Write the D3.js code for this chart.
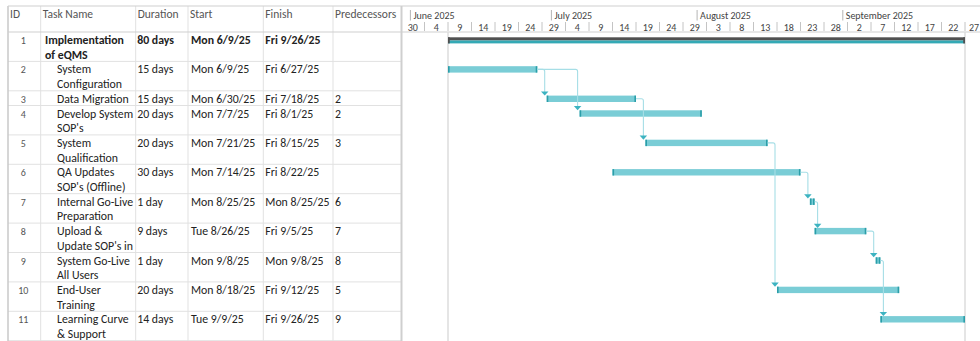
<!DOCTYPE html>
<html>
<head>
<meta charset="utf-8">
<script src="https://cdn.jsdelivr.net/npm/d3@7"></script>
<style>
  html, body { margin: 0; padding: 0; background: #fff; }
  svg { display: block; font-family: Carlito, Calibri, Lato, sans-serif; }
</style>
</head>
<body>
<svg id="chart" width="980" height="341"></svg>
<script>
// ---- task table ----
const ids = [1, 2, 3, 4, 5, 6, 7, 8, 9, 10, 11];
const taskNames = [
  "Implementation\nof eQMS",
  "System\nConfiguration",
  "Data Migration",
  "Develop System\nSOP's",
  "System\nQualification",
  "QA Updates\nSOP's (Offline)",
  "Internal Go-Live\nPreparation",
  "Upload &\nUpdate SOP's in",
  "System Go-Live\nAll Users",
  "End-User\nTraining",
  "Learning Curve\n& Support"
];
const durations = ["80 days", "15 days", "15 days", "20 days", "20 days", "30 days", "1 day", "9 days", "1 day", "20 days", "14 days"];
const startDates = ["2025-06-09", "2025-06-09", "2025-06-30", "2025-07-07", "2025-07-21", "2025-07-14", "2025-08-25", "2025-08-26", "2025-09-08", "2025-08-18", "2025-09-09"];
const finishDates = ["2025-09-26", "2025-06-27", "2025-07-18", "2025-08-01", "2025-08-15", "2025-08-22", "2025-08-25", "2025-09-05", "2025-09-08", "2025-09-12", "2025-09-26"];
const startLabels = ["Mon 6/9/25", "Mon 6/9/25", "Mon 6/30/25", "Mon 7/7/25", "Mon 7/21/25", "Mon 7/14/25", "Mon 8/25/25", "Tue 8/26/25", "Mon 9/8/25", "Mon 8/18/25", "Tue 9/9/25"];
const finishLabels = ["Fri 9/26/25", "Fri 6/27/25", "Fri 7/18/25", "Fri 8/1/25", "Fri 8/15/25", "Fri 8/22/25", "Mon 8/25/25", "Fri 9/5/25", "Mon 9/8/25", "Fri 9/12/25", "Fri 9/26/25"];
const predecessors = ["", "", "2", "2", "3", "", "6", "7", "8", "5", "9"];
const summaryRows = [1];
const columnHeaders = ["ID", "Task Name", "Duration", "Start", "Finish", "Predecessors"];

// ---- timescale ----
const timescaleStart = "2025-05-30";
const timescaleEnd = "2025-10-01";
const dayTickStep = 5;

const parse = d3.timeParse("%Y-%m-%d");
const svg = d3.select("#chart");
const W = 980;

// table geometry
const colEdges = [8, 40.7, 135.7, 188, 263.3, 333, 401.5];
const headerTop = 6, headerBottom = 32;
const lineH = 14.7;
const gridColor = "#e1e1e1";

const tasks = ids.map((id, i) => ({
  id,
  lines: taskNames[i].split("\n"),
  duration: durations[i],
  start: parse(startDates[i]),
  finish: d3.timeDay.offset(parse(finishDates[i]), 1),
  startLabel: startLabels[i],
  finishLabel: finishLabels[i],
  pred: predecessors[i],
  summary: summaryRows.includes(id)
}));

// row positions
let yCursor = headerBottom;
tasks.forEach(t => {
  t.top = yCursor;
  t.h = t.lines.length * lineH;
  yCursor += t.h;
});

const x = d3.scaleTime()
  .domain([parse(timescaleStart), parse(timescaleEnd)])
  .range([401, 401 + 124 * 4.7]);

// ---- grid: table ----
const grid = svg.append("g");
tasks.forEach(t => {
  grid.append("line")
    .attr("x1", colEdges[0]).attr("x2", colEdges[6])
    .attr("y1", t.top + t.h).attr("y2", t.top + t.h)
    .attr("stroke", gridColor).attr("stroke-width", 1);
});
colEdges.slice(1, 6).forEach(cx => {
  grid.append("line")
    .attr("x1", cx).attr("x2", cx)
    .attr("y1", headerTop).attr("y2", 341)
    .attr("stroke", gridColor).attr("stroke-width", 1);
});
// outer borders
grid.append("line").attr("x1", colEdges[0]).attr("x2", colEdges[0])
  .attr("y1", headerTop).attr("y2", 341).attr("stroke", "#c9c9c9").attr("stroke-width", 1.5);
grid.append("line").attr("x1", colEdges[6]).attr("x2", colEdges[6])
  .attr("y1", headerTop).attr("y2", 341).attr("stroke", "#cfcfcf").attr("stroke-width", 2);
grid.append("line").attr("x1", colEdges[0]).attr("x2", W)
  .attr("y1", headerTop).attr("y2", headerTop).attr("stroke", "#cfcfcf").attr("stroke-width", 1);
grid.append("line").attr("x1", colEdges[0]).attr("x2", W)
  .attr("y1", headerBottom).attr("y2", headerBottom).attr("stroke", "#cfcfcf").attr("stroke-width", 1);

// ---- headers ----
const hdr = svg.append("g").attr("font-size", 11.5).attr("fill", "#555");
columnHeaders.forEach((h, i) => {
  hdr.append("text")
    .attr("x", colEdges[i] + 2)
    .attr("y", headerTop + 12)
    .text(h);
});

// ---- table cells ----
const cells = svg.append("g").attr("font-size", 11.8).attr("fill", "#222");
tasks.forEach(t => {
  const base = t.top + 12;
  const g = cells.append("g").attr("font-weight", t.summary ? "bold" : "normal");
  cells.append("text")
    .attr("x", (colEdges[0] + colEdges[1]) / 2 - 1)
    .attr("y", base).attr("text-anchor", "middle")
    .attr("font-size", 10).attr("fill", "#555")
    .text(t.id);
  t.lines.forEach((ln, k) => {
    g.append("text")
      .attr("x", t.summary ? 45 : 57)
      .attr("y", base + k * lineH)
      .text(ln);
  });
  g.append("text").attr("x", colEdges[2] + 1.5).attr("y", base).text(t.duration);
  g.append("text").attr("x", colEdges[3] + 3).attr("y", base).text(t.startLabel);
  g.append("text").attr("x", colEdges[4] + 2).attr("y", base).text(t.finishLabel);
  g.append("text").attr("x", colEdges[5] + 2).attr("y", base).text(t.pred);
});

// ---- timescale header ----
const ts = svg.append("g");
const monthTicks = d3.timeMonth.range(parse(timescaleStart), parse(timescaleEnd));
monthTicks.forEach(m => {
  ts.append("line").attr("x1", x(m)).attr("x2", x(m))
    .attr("y1", 10).attr("y2", 20.5).attr("stroke", "#b5b5b5").attr("stroke-width", 1);
  ts.append("text").attr("x", x(m) + 3).attr("y", 19)
    .attr("font-size", 10).attr("fill", "#444")
    .text(d3.timeFormat("%B %Y")(m));
});
const dayTicks = d3.timeDay.range(parse(timescaleStart), parse(timescaleEnd), dayTickStep);
dayTicks.forEach(d => {
  const next = d3.timeDay.offset(d, dayTickStep);
  ts.append("line").attr("x1", x(next)).attr("x2", x(next))
    .attr("y1", 22).attr("y2", 31).attr("stroke", "#c4c4c4").attr("stroke-width", 1);
  // keep the last partial label inside the view
  const cx = Math.min((x(d) + x(next)) / 2, W - 6);
  ts.append("text").attr("x", cx).attr("y", 31)
    .attr("text-anchor", "middle").attr("font-size", 10).attr("fill", "#444")
    .text(d3.timeFormat("%-d")(d));
});

// ---- project start / finish markers ----
const project = tasks.find(t => t.summary);
[project.start, project.finish].forEach(d => {
  svg.append("line").attr("x1", x(d)).attr("x2", x(d))
    .attr("y1", headerBottom).attr("y2", 341)
    .attr("stroke", "#dcdcdc").attr("stroke-width", 1.5);
});

// ---- bars ----
const barOff = 4.8, barH = 6.4;
const bars = svg.append("g");
tasks.forEach(t => {
  const x0 = x(t.start), x1 = x(t.finish);
  if (t.summary) {
    bars.append("rect").attr("x", x0).attr("y", t.top + 5.3)
      .attr("width", x1 - x0).attr("height", 3.2).attr("fill", "#505050");
    bars.append("rect").attr("x", x0).attr("y", t.top + 8.5)
      .attr("width", x1 - x0).attr("height", 2.9).attr("fill", "#34a9b5");
    bars.append("rect").attr("x", x0).attr("y", t.top + 5.3)
      .attr("width", 1.8).attr("height", 6.1).attr("fill", "#505050");
    bars.append("rect").attr("x", x1 - 1.8).attr("y", t.top + 5.3)
      .attr("width", 1.8).attr("height", 6.1).attr("fill", "#505050");
  } else {
    bars.append("rect").attr("x", x0).attr("y", t.top + barOff)
      .attr("width", x1 - x0).attr("height", barH).attr("fill", "#7acdd6");
    bars.append("rect").attr("x", x0).attr("y", t.top + barOff)
      .attr("width", 1.6).attr("height", barH).attr("fill", "#2b9ea9");
    bars.append("rect").attr("x", x1 - 1.6).attr("y", t.top + barOff)
      .attr("width", 1.6).attr("height", barH).attr("fill", "#2b9ea9");
  }
});

// ---- dependency links ----
const links = svg.append("g");
const byId = new Map(tasks.map(t => [String(t.id), t]));
tasks.forEach(t => {
  if (!t.pred) return;
  t.pred.split(",").forEach(pid => {
    const p = byId.get(pid.trim());
    const px = x(p.finish);
    const py = p.top + barOff + barH / 2;
    const lx = Math.max(x(t.start) - 2, px + 3);
    const arrowH = 4.2, arrowW = 7.5;
    const ty = t.top + barOff;
    const r = 2;
    links.append("path")
      .attr("d", `M${px},${py} H${lx - r} Q${lx},${py} ${lx},${py + r} V${ty - arrowH + 0.5}`)
      .attr("fill", "none").attr("stroke", "#a6dee6").attr("stroke-width", 1.1);
    links.append("path")
      .attr("d", `M${lx - arrowW / 2},${ty - arrowH} H${lx + arrowW / 2} L${lx},${ty} Z`)
      .attr("fill", "#3cb3c1");
  });
});
</script>
</body>
</html>
